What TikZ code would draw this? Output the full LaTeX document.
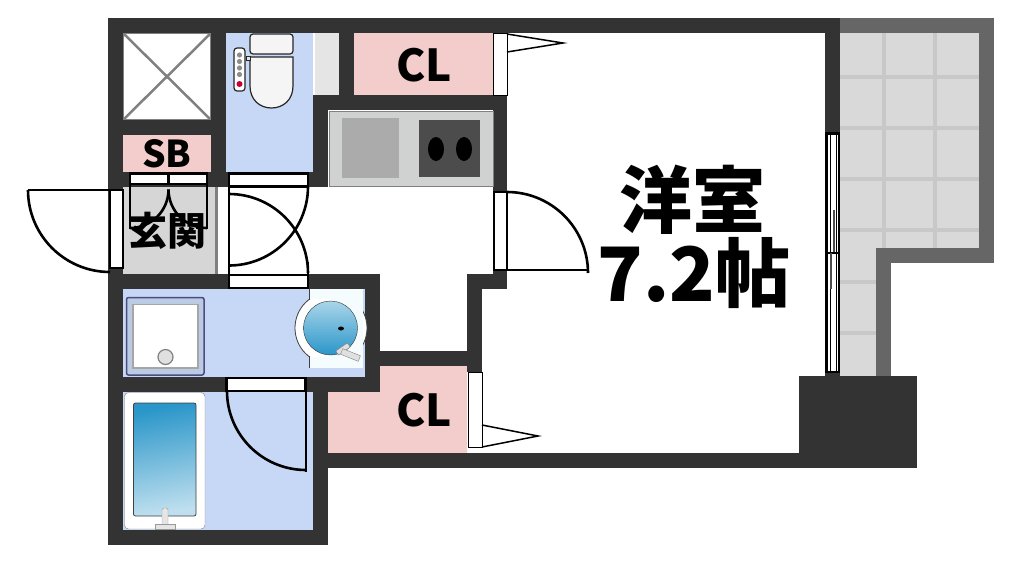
\documentclass[tikz,border=0pt]{standalone}
\usepackage{fontspec}
\newfontfamily\planfont{Noto Sans CJK JP}
\definecolor{wallc}{HTML}{333333}
\definecolor{balcc}{HTML}{666666}
\definecolor{tilec}{HTML}{D9D9D9}
\definecolor{jointc}{HTML}{C8C8C8}
\definecolor{wetc}{HTML}{C6D8F5}
\definecolor{pinkc}{HTML}{F3CCCC}
\definecolor{hallc}{HTML}{D6D6D6}
\definecolor{benchc}{HTML}{D0D2D1}
\definecolor{tubc}{HTML}{2A96C9}
\tikzset{
  wall/.style={fill=wallc},
  balc/.style={fill=balcc},
  joint/.style={draw=jointc,line width=4pt},
  leaf/.style={draw=black,line width=2.6pt},
  frame/.style={draw=black,fill=white,line width=2.2pt},
  roomtext/.style={font=\planfont\bfseries\fontsize{#1}{#1}\selectfont,text=black,inner sep=0pt}
}
\begin{document}
\begin{tikzpicture}[x=1pt,y=-1pt]
\useasboundingbox (0,0) rectangle (1011,563);

%floors
\fill[tilec] (840,33)--(979,33)--(979,248)--(876,248)--(876,376)--(840,376)--cycle;
\fill[wetc] (226,33) rectangle (313,172);
\fill[wetc] (123,289) rectangle (365,377);
\fill[wetc] (123,392) rectangle (313,530);
\fill[hallc] (123,187) rectangle (215,274);
\draw[gray,line width=2.5pt] (216.5,187)--(216.5,274);
\fill[pinkc] (123,135) rectangle (211,172);
\fill[pinkc] (354,33) rectangle (493,95);
\fill[pinkc] (328,392)--(380,392)--(380,366)--(467,366)--(467,453)--(328,453)--cycle;
\fill[black!10] (315,33) rectangle (339,95);

%balcony tiles
\draw[joint] (884,33)--(884,248);
\draw[joint] (935,33)--(935,248);
\draw[joint] (840,76.5)--(979,76.5);
\draw[joint] (840,128)--(979,128);
\draw[joint] (840,179)--(979,179);
\draw[joint] (840,230)--(979,230);
\draw[joint] (840,281.5)--(876,281.5);
\draw[joint] (840,332.5)--(876,332.5);

%balcony wall
\fill[balc] (840,18) rectangle (994,33);
\fill[balc] (979,18) rectangle (994,263);
\fill[balc] (876,248) rectangle (994,263);
\fill[balc] (876,248) rectangle (891,376);

%outer walls
\fill[wall] (108,18) rectangle (840,33);
\fill[wall] (108,18) rectangle (123,545);
\fill[wall] (825,18) rectangle (840,377);
\fill[wall] (108,530) rectangle (328,545);
\fill[wall] (313,392) rectangle (328,545);
\fill[wall] (313,453) rectangle (800,468);
\fill[wall] (799,376) rectangle (917,468);

%inner walls
\fill[wall] (211,18) rectangle (226,187);
\fill[wall] (108,120) rectangle (226,135);
\fill[wall] (108,172) rectangle (328,187);
\fill[wall] (313,95) rectangle (328,187);
\fill[wall] (339,18) rectangle (354,95);
\fill[wall] (313,95) rectangle (507,110);
\fill[wall] (493,95) rectangle (507,192);
\fill[wall] (108,274) rectangle (380,289);
\fill[wall] (365,274) rectangle (380,392);
\fill[wall] (108,377) rectangle (380,392);
\fill[wall] (380,351) rectangle (482,366);
\fill[wall] (467,274) rectangle (482,366);
\fill[wall] (467,274) rectangle (507,289);
\fill[wall] (467,366) rectangle (482,372);
\fill[wall] (493,270) rectangle (507,289);

%storage with cross
\fill[white] (123,33) rectangle (211,120);
\draw[gray,line width=2.5pt] (124,34)--(210,119);
\draw[gray,line width=2.5pt] (210,34)--(124,119);
\draw[gray,line width=1pt] (123.5,33.5) rectangle (210.5,119.5);

%kitchen
\fill[benchc,draw=gray] (329,111) rectangle (493,186);
\fill[black!33] (342,118) rectangle (399,178);
\fill[black!70!white] (419,120) rectangle (480,177);
\fill[black] (436,149) ellipse [x radius=8,y radius=12];
\fill[black] (464,149) ellipse [x radius=8,y radius=12];

%toilet
\draw[black!85,fill=white!96!black,line width=1.2pt,rounded corners=3pt] (250,34) rectangle (293,54);
\draw[black!85,fill=white!96!black,line width=1.2pt] (250,57)--(293,57)--(293,86) .. controls (293,100) and (283,108) .. (271.5,108) .. controls (260,108) and (250,100) .. (250,86)--cycle;
\draw[black!85,fill=black!10,line width=1pt] (246,56) rectangle (250,60);
\draw[black!85,fill=white,line width=1.2pt,rounded corners=3pt] (234,48) rectangle (245,91);
\fill[black!45] (239.5,55) circle (2.6);
\fill[black!45] (239.5,61.5) circle (2.6);
\fill[black!45] (239.5,68) circle (2.6);
\fill[black!45] (239.5,74.5) circle (2.6);
\fill[purple!90!red] (239.5,84) circle (3);

%shower tray
\draw[black!70!blue!70!white,fill=wetc!85!gray,line width=1.5pt,rounded corners=2pt] (126.5,297.5) rectangle (204,375);
\draw[black!35,fill=white,line width=1.8pt] (133,304.5) rectangle (198,368);
\draw[black!50,fill=black!12,line width=1.2pt] (165.5,357) circle (7.5);

%wash basin
\fill[white!96!cyan] (309,289) rectangle (363,368);
\draw[black!75,fill=white,line width=.8pt] (331,328) circle (36);
\fill[white!96!cyan] (309,289) rectangle (363,299);
\fill[white!96!cyan] (309,357) rectangle (363,368);
\fill[white!96!cyan] (331,290) rectangle (363,367);
\draw[black!75,line width=.8pt] (309,289)--(309,300);
\draw[black!75,line width=.8pt] (309,356)--(309,368);
\shade[top color=tubc!40!white,bottom color=tubc,draw=black!80] (330.5,328) circle (27);
\fill[black] (341,328.5) ellipse [x radius=3,y radius=2];
\draw[black!50,fill=black!12,rotate around={35:(343,349)}] (336,346.5) rectangle (350,351.5);
\draw[black!50,fill=black!12,rotate around={-22:(350.5,355)}] (341,352) rectangle (360,358);

%bath
\draw[black!50,fill=white,rounded corners=4pt] (124.5,392.5) rectangle (205,529);
\shade[top color=tubc,bottom color=tubc!30!white,shading angle=10,draw=black!75,line width=.8pt,rounded corners=2pt] (133.5,403) rectangle (196,516);
\draw[black!40,fill=black!10,rounded corners=2pt] (162,508) rectangle (168,526);
\draw[black!40,fill=black!10] (155,524) rectangle (175,529.5);

%entrance double door
\draw[frame] (130,173.5) rectangle (168.5,184);
\draw[frame] (168.5,173.5) rectangle (207,184);
\draw[leaf] (130,184)--(130,228)--(134,228);
\draw[leaf] (207,184)--(207,228)--(196,228);
\draw[leaf] (130,228) arc[start angle=90,end angle=0,radius=38.5];
\draw[leaf] (207,228) arc[start angle=90,end angle=180,radius=38.5];

%front door
\draw[frame] (110,190) rectangle (123,268);
\draw[leaf] (28,190)--(110,190);
\draw[leaf] (28,190) arc[start angle=180,end angle=90,radius=82];

%hall doors
\draw[frame] (229,173.5) rectangle (308,186.5);
\draw[frame] (229,275) rectangle (308,288);
\draw[leaf] (229,186.5)--(229,275);
\draw[leaf] (308,262)--(308,275);
\draw[leaf] (308,186.5) arc[start angle=0,end angle=90,radius=79];
\draw[leaf] (308,273) arc[start angle=0,end angle=-90,radius=79];

%wash room door
\draw[frame] (226.5,378) rectangle (305.5,391);
\draw[leaf] (306,391)--(306,472);
\draw[leaf] (227,391) arc[start angle=180,end angle=90,radius=79];

%room door
\draw[frame] (494,192) rectangle (507,270);
\draw[leaf] (507,270)--(588,270);
\draw[leaf] (507,192) arc[start angle=-90,end angle=0,radius=81];

%closet doors
\draw[black,fill=white,line width=1pt] (493,33) rectangle (507,95);
\draw[black,line width=1.5pt] (507,34)--(563,43)--(507,52);
\draw[black,fill=white,line width=1pt] (468,372) rectangle (482,447);
\draw[black,line width=1.5pt] (482,425)--(538,436)--(482,447);

%window
\draw[frame] (826.5,133.5) rectangle (839,372);
\draw[black,line width=1pt] (830,134)--(830,372);
\draw[black,line width=1pt] (836,134)--(836,372);
\draw[black,line width=2pt] (826.5,252.5)--(839,252.5);
\draw[black!70,line width=1.2pt] (834,210)--(834,252);
\draw[black!70,line width=1.2pt] (831,253)--(831,289);

%texts
\node[roomtext=44] (closetone) at (424,65) {CL};
\node[roomtext=44] (closettwo) at (424,410) {CL};
\node[roomtext=37] (sbox) at (167,154) {SB};
\node[roomtext=39] (entry) at (167,231) {玄関};
\node[roomtext=73] (room) at (692,200) {洋室};
\node[roomtext=75] (roomsize) at (694,273) {7.2帖};
\end{tikzpicture}
\end{document}
